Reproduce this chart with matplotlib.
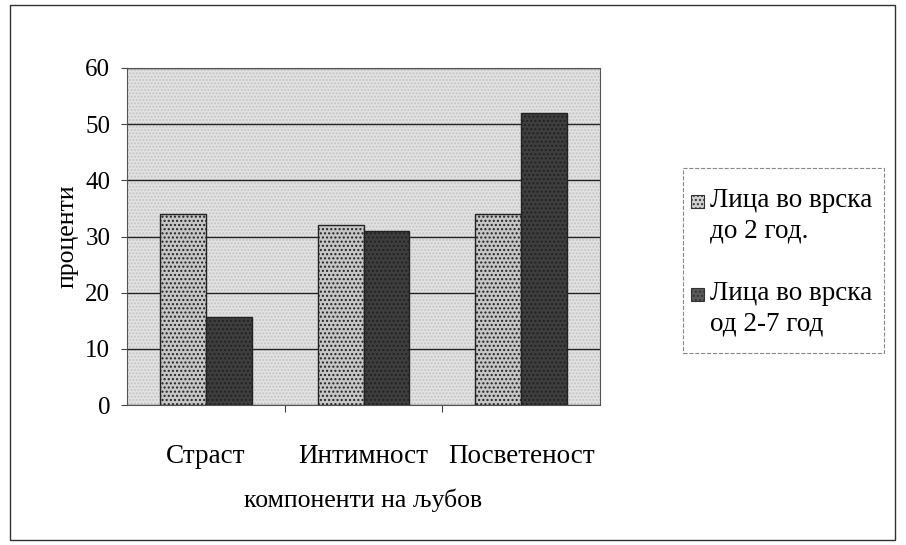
import matplotlib
matplotlib.use("Agg")
import matplotlib.pyplot as plt
import numpy as np
from matplotlib.patches import Rectangle

categories = ["Страст", "Интимност", "Посветеност"]
series_names = ["Лица во врска\nдо 2 год.", "Лица во врска\nод 2-7 год"]
values_short = [34, 32, 34]
values_long = [15.7, 31, 52]
yticks = [0, 10, 20, 30, 40, 50, 60]

plt.rcParams['font.family'] = ['Liberation Serif', 'DejaVu Serif']
plt.rcParams['hatch.color'] = '#7a7a7a'

W, H = 906, 545
fig = plt.figure(figsize=(W/100, H/100), dpi=100)
fig.patch.set_facecolor('white')
# outer border
fig.add_artist(Rectangle((10/W, 5/H), 885/W, 535/H, transform=fig.transFigure,
                         fill=False, edgecolor='#333333', linewidth=1.0))

ax = fig.add_axes([127/W, 1 - 405/H, (600-127)/W, (405-68)/H])
ax.set_facecolor('#e2e2e2')
ax.patch.set_hatch('.....')
ax.patch.set_edgecolor('#c4c4c4')

x = np.arange(len(categories))
w = 0.29
ax.bar(x - w/2, values_short, width=w, color='#c6c6c6', edgecolor='#222222',
       linewidth=1.0, hatch='....', zorder=3)
ax.bar(x + w/2, values_long, width=w, color='#3e3e3e', edgecolor='#222222',
       linewidth=1.0, hatch='....', zorder=3)

ax.set_xlim(-0.5, 2.5)
ax.set_ylim(0, 60)
ax.set_yticks(yticks)
ax.set_yticklabels([str(t) for t in yticks], fontsize=18)
ax.yaxis.grid(True, color='#222222', linewidth=1.0, zorder=1)
ax.set_axisbelow(True)
ax.set_xticks([0.5, 1.5])
ax.set_xticklabels([])
ax.tick_params(axis='x', length=5, color='#444444')
ax.tick_params(axis='y', length=4, color='#444444', pad=8)
for c, xc in zip(categories, x):
    ax.text(xc, -39/337, c, transform=ax.get_xaxis_transform(), ha='center',
            va='top', fontsize=19.5)
ax.text(0.5, -(488-405+1)/337, "компоненти на љубов", transform=ax.transAxes,
        ha='center', va='top', fontsize=18.5)
ax.set_ylabel("проценти", fontsize=18.5, labelpad=5)
for s in ax.spines.values():
    s.set_color('#555555')
    s.set_linewidth(0.8)

# legend drawn manually
fig.add_artist(Rectangle((683/W, 1 - 353/H), (884-683)/W, (353-168)/H,
                         transform=fig.transFigure, fill=False, edgecolor='#888888',
                         linestyle='--', linewidth=0.8))
legend_colors = ['#d0d0d0', '#5a5a5a']
text_tops = [188, 281]
for name, col, ty in zip(series_names, legend_colors, text_tops):
    fig.add_artist(Rectangle((691/W, 1 - (ty + 20)/H), 13/W, 13/H,
                             transform=fig.transFigure, facecolor=col,
                             edgecolor='#333333', linewidth=0.8, hatch='....'))
    fig.text(710/W, 1 - ty/H, name, fontsize=19.5, va='top', ha='left',
             linespacing=1.3)

fig.savefig("out.png", dpi=100, facecolor='white')
